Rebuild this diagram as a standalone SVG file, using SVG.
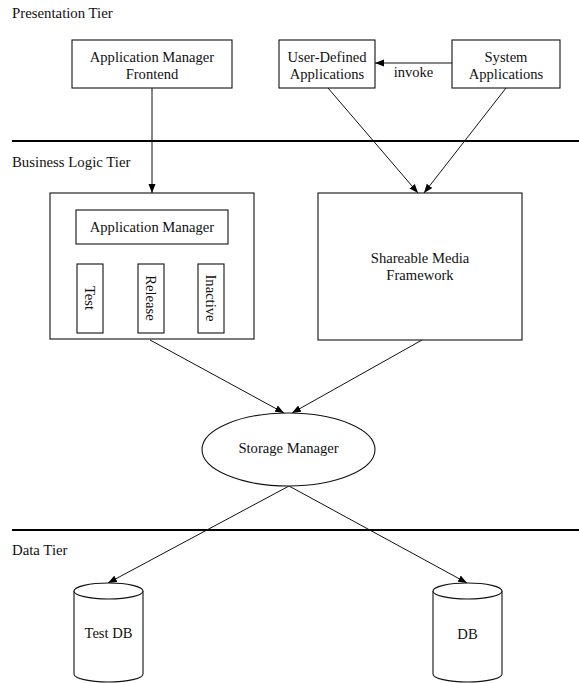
<svg xmlns="http://www.w3.org/2000/svg" width="579" height="683" viewBox="0 0 579 683">
<style>
text{font-family:"Liberation Serif","Times New Roman",serif;font-size:14.6px;fill:#111;}
.tier{font-size:14.8px;}
.c{text-anchor:middle;}
.box{fill:#fff;stroke:#111;stroke-width:1.1;}
.sep{stroke:#000;stroke-width:2;}
.edge{stroke:#111;stroke-width:1;fill:none;marker-end:url(#arr);}
</style>
<defs>
<marker id="arr" markerUnits="userSpaceOnUse" markerWidth="10" markerHeight="8" refX="9" refY="4" orient="auto">
<path d="M0,0.5 L9,4 L0,7.5 Z" fill="#000"/>
</marker>
</defs>
<rect width="579" height="683" fill="#fff"/>

<g id="tiers">
<text class="tier" x="12" y="18">Presentation Tier</text>
<line class="sep" x1="12" y1="141" x2="579" y2="141"/>
<text class="tier" x="12" y="167">Business Logic Tier</text>
<line class="sep" x1="12" y1="530" x2="579" y2="530"/>
<text class="tier" x="12" y="555">Data Tier</text>
</g>

<g id="connectors">
<line class="edge" x1="152" y1="88" x2="152" y2="193"/>
<line class="edge" x1="452" y1="63" x2="375" y2="63"/>
<line class="edge" x1="328" y1="88" x2="418" y2="193"/>
<line class="edge" x1="506" y1="88" x2="424" y2="193"/>
<line class="edge" x1="89" y1="244" x2="89" y2="264"/>
<line class="edge" x1="150" y1="244" x2="150" y2="264"/>
<line class="edge" x1="210" y1="244" x2="210" y2="264"/>
<line class="edge" x1="150" y1="340" x2="284" y2="413"/>
<line class="edge" x1="422" y1="340" x2="292" y2="413"/>
<line class="edge" x1="289" y1="486" x2="108" y2="583"/>
<line class="edge" x1="289" y1="486" x2="467" y2="583"/>
<text class="c" x="413.5" y="77">invoke</text>
</g>

<g id="frontend">
<rect class="box" x="72" y="40" width="160" height="48"/>
<text class="c" x="152" y="62">Application Manager</text>
<text class="c" x="152" y="79">Frontend</text>
</g>

<g id="user-defined">
<rect class="box" x="279" y="40" width="96" height="48"/>
<text class="c" x="327" y="62">User-Defined</text>
<text class="c" x="327" y="79">Applications</text>
</g>

<g id="system">
<rect class="box" x="452" y="40" width="108" height="48"/>
<text class="c" x="506" y="62">System</text>
<text class="c" x="506" y="79">Applications</text>
</g>

<g id="business">
<rect class="box" x="50" y="193" width="204" height="146" fill="none"/>
</g>

<g id="app-manager">
<rect class="box" x="76" y="210" width="152" height="34"/>
<text class="c" x="152" y="232">Application Manager</text>
</g>

<g id="test">
<rect class="box" x="77" y="264" width="26" height="69"/>
<text class="c" transform="translate(90,298) rotate(90)" dy="0.33em">Test</text>
</g>

<g id="release">
<rect class="box" x="138" y="264" width="26" height="69"/>
<text class="c" transform="translate(151,298) rotate(90)" dy="0.33em">Release</text>
</g>

<g id="inactive">
<rect class="box" x="198" y="264" width="26" height="69"/>
<text class="c" transform="translate(211,298) rotate(90)" dy="0.33em">Inactive</text>
</g>

<g id="smf">
<rect class="box" x="318" y="193" width="204" height="147"/>
<text class="c" x="420" y="263">Shareable Media</text>
<text class="c" x="420" y="280">Framework</text>
</g>

<g id="storage">
<ellipse class="box" cx="288.5" cy="449.5" rx="86.5" ry="36.5"/>
<text class="c" x="288.5" y="453">Storage Manager</text>
</g>

<g id="testdb">
<path class="box" d="M74,591 L74,674 A34.5,8 0 0,0 143,674 L143,591"/>
<ellipse class="box" cx="108.5" cy="591" rx="34.5" ry="8"/>
<text class="c" x="108.5" y="637.5">Test DB</text>
</g>

<g id="db">
<path class="box" d="M433,591 L433,674 A34.5,8 0 0,0 502,674 L502,591"/>
<ellipse class="box" cx="467.5" cy="591" rx="34.5" ry="8"/>
<text class="c" x="467.5" y="639">DB</text>
</g>
</svg>
